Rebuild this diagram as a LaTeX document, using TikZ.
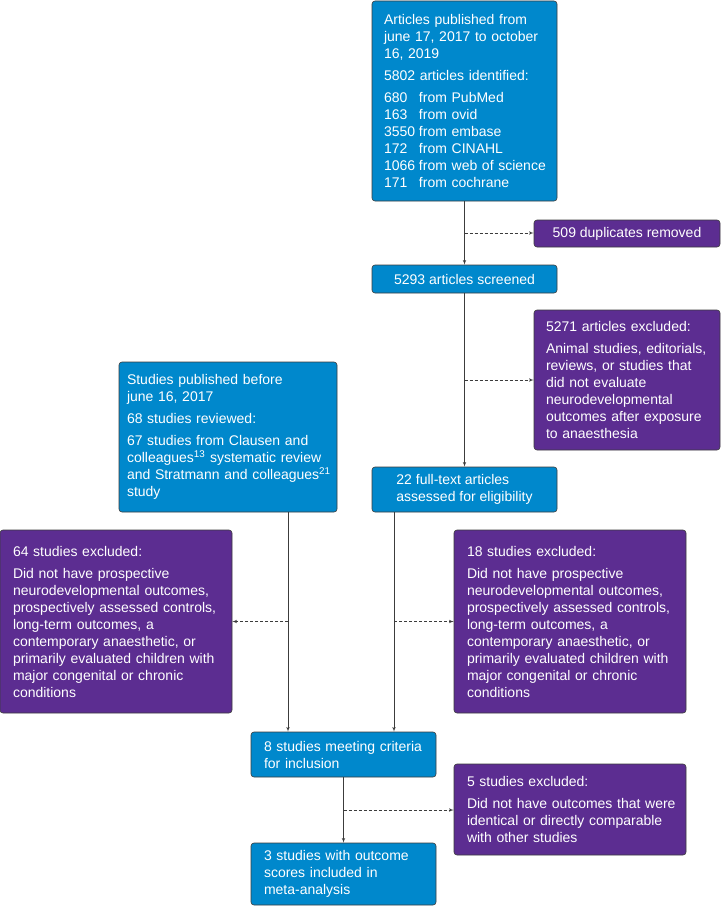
\documentclass[tikz,border=0pt]{standalone}
\usepackage{fontspec}
\setmainfont{Liberation Sans}
\usetikzlibrary{arrows,positioning}
\definecolor{bmjblue}{HTML}{0088CC}
\definecolor{bmjpurple}{HTML}{5C2D91}
\definecolor{edgegray}{HTML}{3C3C3C}
\tikzset{
    block/.style = {draw=edgegray, fill=bmjblue, text=white,
        rounded corners=3pt, line width=0.6pt,
        font=\fontsize{14}{17}\selectfont, align=left,
        inner xsep=13pt, inner ysep=4pt},
    exclude/.style = {block, fill=bmjpurple},
    arrow/.style = {draw=edgegray, line width=0.6pt, ->},
    dasharrow/.style = {arrow, dash pattern=on 3pt off 2pt}
}
\newcommand{\src}[2]{\mbox{\makebox[35pt][l]{#1}#2}}

\begin{document}
\begin{tikzpicture}[auto, node distance=2cm,>=latex']
        \useasboundingbox (0pt,0pt) rectangle (721pt,-907pt);
        \node [block, inner xsep=12pt, text width=161pt, minimum height=200pt] (search) at (464.5pt,-101pt)
            {Articles published from\\june 17, 2017 to october\\16, 2019\\[5pt]
             5802 articles identified:\\[5pt]
             \src{680}{from PubMed}\\\src{163}{from ovid}\\\src{3550}{from embase}\\
             \src{172}{from CINAHL}\\\src{1066}{from web of science}\\\src{171}{from cochrane}};
        \node [block, below of=search, node distance=178pt, align=center, minimum width=185pt, minimum height=28pt] (screened) {5293 articles screened};
        \draw [arrow] (search) -- coordinate[pos=.5] (tap1) (screened);
        \node [exclude, right of=screened, node distance=162.5pt, yshift=45.5pt, align=center, minimum width=186pt, minimum height=27pt] (dup) {509 duplicates removed};
        \draw [dasharrow] (tap1) -- (tap1 -| dup.west);
        \node [block, below of=screened, node distance=210.5pt, minimum width=185pt, minimum height=45pt] (fulltext) {22 full-text articles\\assessed for eligibility};
        \draw [arrow] (screened) -- coordinate[pos=.5] (tap2) (fulltext);
        \node [exclude, below of=dup, node distance=146.5pt, inner xsep=12pt, text width=162pt, minimum height=140pt] (animal)
            {5271 articles excluded:\\[5pt]\mbox{Animal studies, editorials,}\\reviews, or studies that\\did not evaluate\\neurodevelopmental\\outcomes after exposure\\to anaesthesia};
        \draw [dasharrow] (tap2) -- (tap2 -| animal.west);
        \node [block, left of=fulltext, node distance=236.5pt, yshift=52.5pt, inner xsep=8pt, text width=202pt, minimum height=150pt] (before)
            {Studies published before\\june 16, 2017\\[5pt]68 studies reviewed:\\[5pt]
             67 studies from Clausen and\\\mbox{colleagues\textsuperscript{13} systematic review}\\\mbox{and Stratmann and colleagues\textsuperscript{21}}\\study};
        \node [exclude, below of=fulltext, node distance=132pt, xshift=105.5pt, text width=206pt, minimum height=183pt] (excl18)
            {18 studies excluded:\\[5pt]Did not have prospective\\neurodevelopmental outcomes,\\\mbox{prospectively assessed controls,}\\long-term outcomes, a\\contemporary anaesthetic, or\\\mbox{primarily evaluated children with}\\major congenital or chronic\\conditions};
        \node [exclude, left of=excl18, node distance=454pt, text width=206pt, minimum height=183pt] (excl64)
            {64 studies excluded:\\[5pt]Did not have prospective\\neurodevelopmental outcomes,\\\mbox{prospectively assessed controls,}\\long-term outcomes, a\\contemporary anaesthetic, or\\\mbox{primarily evaluated children with}\\major congenital or chronic\\conditions};
        \node [block, below of=fulltext, node distance=265pt, xshift=-121pt, text width=159pt, minimum height=45pt] (included) {\mbox{8 studies meeting criteria}\\for inclusion};
        \coordinate (fdown) at ([xshift=-70.5pt]fulltext.south);
        \coordinate (bdown) at ([xshift=60pt]before.south);
        \draw [arrow] (fdown) -- (fdown |- included.north);
        \draw [arrow] (bdown) -- (bdown |- included.north);
        \draw [dasharrow] (fdown |- excl18.west) -- (excl18.west);
        \draw [dasharrow] (bdown |- excl64.east) -- (excl64.east);
        \node [exclude, below of=excl18, node distance=188pt, text width=206pt, minimum height=91pt] (excl5)
            {5 studies excluded:\\[5pt]\mbox{Did not have outcomes that were}\\\mbox{identical or directly comparable}\\with other studies};
        \node [block, below of=included, node distance=119.5pt, text width=159pt, minimum height=62pt] (meta) {3 studies with outcome\\scores included in\\meta-analysis};
        \draw [arrow] (included) -- coordinate[pos=.5] (tap3) (meta);
        \draw [dasharrow] (tap3) -- (tap3 -| excl5.west);
    \end{tikzpicture}
\end{document}
